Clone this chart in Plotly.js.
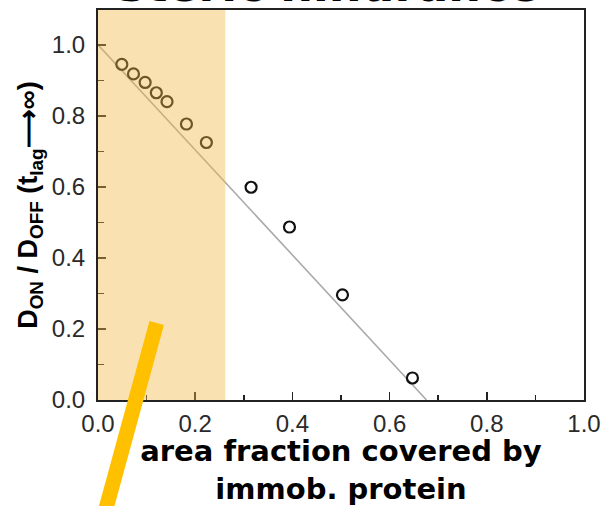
<!DOCTYPE html>
<html>
<head>
<meta charset="utf-8">
<script src="https://cdn.plot.ly/plotly-3.0.1.min.js"></script>
<style>html,body{margin:0;padding:0;background:#fff;}#chart{width:603px;height:506px;}</style>
</head>
<body>
<div id="chart"></div>
<script>
// Measured data (area fraction vs D_ON/D_OFF)
const areaFraction = [0.049, 0.073, 0.097, 0.120, 0.142, 0.182, 0.223, 0.315, 0.394, 0.503, 0.647];
const dRatio       = [0.945, 0.918, 0.894, 0.865, 0.840, 0.777, 0.725, 0.599, 0.487, 0.296, 0.062];
// Linear guide line endpoints
const fitX = [0.0, 0.676];
const fitY = [1.0, 0.0];
// Shaded region (area fraction)
const shadeRange = [0.0, 0.262];
const xTicks = [0.0, 0.2, 0.4, 0.6, 0.8, 1.0];
const yTicks = [0.0, 0.2, 0.4, 0.6, 0.8, 1.0];
const tickText = ['0.0', '0.2', '0.4', '0.6', '0.8', '1.0'];

const traces = [
  {x: fitX, y: fitY, mode: 'lines', line: {color: '#aaaaaa', width: 1.6}, hoverinfo: 'skip', showlegend: false},
  {x: areaFraction, y: dRatio, mode: 'markers',
   marker: {symbol: 'circle-open', size: 11, color: '#111111', line: {width: 2.2, color: '#111111'}},
   showlegend: false}
];

const tickFont = {family: 'Liberation Sans, Arial, sans-serif', size: 24, color: '#2a2a2a'};
const layout = {
  width: 603, height: 506,
  margin: {l: 98, r: 19, t: 10, b: 106},
  paper_bgcolor: '#ffffff', plot_bgcolor: '#ffffff',
  xaxis: {
    range: [0, 1.0], tickvals: xTicks, ticktext: tickText,
    ticks: 'inside', ticklen: 8, tickwidth: 1.5, tickcolor: '#222',
    minor: {dtick: 0.1, ticks: 'inside', ticklen: 5, tickwidth: 1.5, tickcolor: '#222'},
    showline: true, linecolor: '#222', linewidth: 2, mirror: true,
    showgrid: false, zeroline: false, tickfont: tickFont, ticklabelstandoff: 1,
    title: {text: '<b>area fraction covered by<br>immob. protein</b>',
            font: {family: 'DejaVu Sans, sans-serif', size: 29, color: '#000'}, standoff: 8}
  },
  yaxis: {
    range: [0, 1.098], tickvals: yTicks, ticktext: tickText,
    ticks: 'inside', ticklen: 8, tickwidth: 1.5, tickcolor: '#222',
    minor: {dtick: 0.1, ticks: 'inside', ticklen: 6, tickwidth: 1.5, tickcolor: '#222'},
    showline: true, linecolor: '#222', linewidth: 2, mirror: true,
    showgrid: false, zeroline: false, tickfont: tickFont, ticklabelstandoff: 6,
    title: {text: '<b>D<sub>ON</sub> / D<sub>OFF</sub> (t<sub>lag</sub>⟶∞)</b>',
            font: {family: 'Liberation Sans, Arial, sans-serif', size: 27, color: '#000'}, standoff: 6}
  },
  shapes: [
    {type: 'rect', xref: 'x', yref: 'paper', x0: shadeRange[0], x1: shadeRange[1], y0: 0, y1: 1,
     fillcolor: 'rgba(240,184,72,0.42)', line: {width: 0}, layer: 'above'},
    {type: 'line', xref: 'paper', yref: 'paper', x0: 0.1208, y0: 0.1974, x1: 0.0076, y1: -0.3187,
     line: {color: '#FFC000', width: 15}, layer: 'above'}
  ],
  annotations: [
    {text: '<b>steric hindrance</b>', xref: 'paper', yref: 'paper', x: 0.475, y: 0.989,
     xanchor: 'center', yanchor: 'bottom', showarrow: false,
     font: {family: 'DejaVu Sans, sans-serif', size: 46, color: '#000'}}
  ]
};
Plotly.newPlot('chart', traces, layout, {displayModeBar: false, staticPlot: true});
</script>
</body>
</html>
